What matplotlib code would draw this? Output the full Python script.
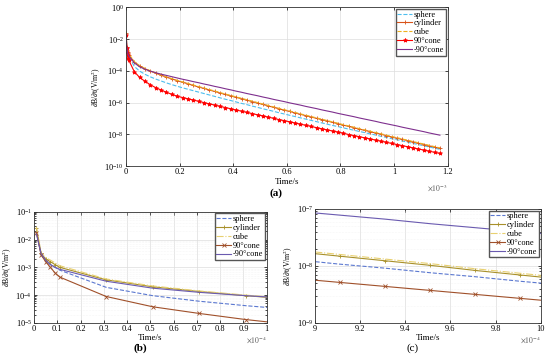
import numpy as np
import matplotlib
matplotlib.use("Agg")
import matplotlib.pyplot as plt
from matplotlib.ticker import LogLocator, MultipleLocator, FuncFormatter, NullFormatter

plt.rcParams['font.family'] = ['Liberation Serif', 'DejaVu Serif']
plt.rcParams['mathtext.fontset'] = 'stix'

# time samples (x 1e-3 s)
t_ms = [0.001, 0.003, 0.005, 0.007, 0.009, 0.011,
        0.031, 0.051, 0.071, 0.091, 0.111, 0.131, 0.151, 0.171, 0.191,
        0.211, 0.231, 0.251, 0.271, 0.291, 0.311, 0.331, 0.351, 0.371, 0.391,
        0.411, 0.431, 0.451, 0.471, 0.491, 0.511, 0.531, 0.551, 0.571, 0.591,
        0.611, 0.631, 0.651, 0.671, 0.691, 0.711, 0.731, 0.751, 0.771, 0.791,
        0.811, 0.831, 0.851, 0.871, 0.891, 0.911, 0.931, 0.951, 0.971, 0.991,
        1.011, 1.031, 1.051, 1.071, 1.091, 1.111, 1.131, 1.151, 1.171]

# log10 of dB/dt for each model
log_sphere = [-1.70, -2.55, -2.75, -2.90, -3.00, -3.10,
              -3.72, -4.02, -4.22, -4.38, -4.52, -4.64, -4.76, -4.87, -4.97,
              -5.07, -5.16, -5.25, -5.34, -5.43, -5.52, -5.61, -5.70, -5.79, -5.87,
              -5.96, -6.05, -6.13, -6.22, -6.30, -6.39, -6.47, -6.55, -6.64, -6.72,
              -6.80, -6.88, -6.96, -7.04, -7.12, -7.20, -7.28, -7.36, -7.44, -7.51,
              -7.59, -7.67, -7.74, -7.82, -7.89, -7.97, -8.04, -8.12, -8.19, -8.27,
              -8.34, -8.42, -8.49, -8.57, -8.64, -8.72, -8.79, -8.87, -8.94]
log_cylinder = [-1.60, -2.50, -2.70, -2.80, -2.90, -3.00,
                -3.45, -3.70, -3.87, -4.02, -4.15, -4.28, -4.40, -4.51, -4.62,
                -4.72, -4.82, -4.92, -5.02, -5.11, -5.21, -5.30, -5.40, -5.49, -5.58,
                -5.67, -5.76, -5.85, -5.94, -6.03, -6.12, -6.21, -6.30, -6.39, -6.48,
                -6.56, -6.65, -6.74, -6.82, -6.91, -6.99, -7.08, -7.16, -7.25, -7.33,
                -7.42, -7.50, -7.58, -7.67, -7.75, -7.83, -7.91, -7.99, -8.08, -8.16,
                -8.24, -8.32, -8.40, -8.48, -8.56, -8.64, -8.72, -8.80, -8.88]
log_cube = [-1.55, -2.48, -2.65, -2.74, -2.84, -2.94,
            -3.42, -3.67, -3.85, -4.00, -4.13, -4.26, -4.38, -4.49, -4.60,
            -4.70, -4.79, -4.89, -4.99, -5.08, -5.18, -5.27, -5.37, -5.46, -5.55,
            -5.64, -5.73, -5.82, -5.91, -6.00, -6.09, -6.18, -6.27, -6.36, -6.45,
            -6.53, -6.62, -6.71, -6.79, -6.88, -6.96, -7.05, -7.13, -7.22, -7.30,
            -7.39, -7.47, -7.55, -7.64, -7.72, -7.80, -7.88, -7.96, -8.05, -8.13,
            -8.21, -8.29, -8.37, -8.45, -8.53, -8.61, -8.69, -8.77, -8.85]
log_cone90 = [-1.75, -2.55, -2.80, -3.00, -3.20, -3.35,
              -4.05, -4.42, -4.66, -4.88, -5.06, -5.21, -5.35, -5.48, -5.60,
              -5.68, -5.76, -5.84, -5.92, -6.00, -6.08, -6.16, -6.24, -6.31, -6.39,
              -6.47, -6.54, -6.62, -6.69, -6.77, -6.84, -6.92, -6.99, -7.07, -7.14,
              -7.21, -7.29, -7.36, -7.43, -7.50, -7.58, -7.65, -7.72, -7.79, -7.86,
              -7.93, -8.01, -8.08, -8.15, -8.22, -8.29, -8.36, -8.43, -8.50, -8.57,
              -8.64, -8.71, -8.78, -8.85, -8.92, -8.99, -9.06, -9.13, -9.20]
log_cone_m90 = [-1.80, -2.50, -2.75, -2.90, -3.00, -3.07,
                -3.50, -3.75, -3.90, -4.02, -4.12, -4.21, -4.29, -4.37, -4.45,
                -4.53, -4.60, -4.68, -4.75, -4.83, -4.90, -4.98, -5.05, -5.13, -5.20,
                -5.28, -5.35, -5.43, -5.50, -5.57, -5.65, -5.72, -5.80, -5.87, -5.94,
                -6.02, -6.09, -6.16, -6.24, -6.31, -6.38, -6.46, -6.53, -6.60, -6.68,
                -6.75, -6.82, -6.89, -6.97, -7.04, -7.11, -7.18, -7.26, -7.33, -7.40,
                -7.47, -7.55, -7.62, -7.69, -7.76, -7.83, -7.91, -7.98, -8.05]

labels = ['sphere', 'cylinder', 'cube', '90°cone', '-90°cone']
series = [log_sphere, log_cylinder, log_cube, log_cone90, log_cone_m90]

t = np.array(t_ms) * 1e-3

style_a = [dict(color='#4DBEEE', ls='--', marker=None),
           dict(color='#D95319', ls='-', marker='+'),
           dict(color='#EDB120', ls='--', marker=None),
           dict(color='#FF0000', ls='-', marker='*'),
           dict(color='#7E2F8E', ls='-', marker=None)]
style_bc = [dict(color='#5B78D0', ls='--', marker=None),
            dict(color='#A8902A', ls='-', marker='+'),
            dict(color='#E8D070', ls='-.', marker=None),
            dict(color='#A0502A', ls='-', marker='x'),
            dict(color='#6A5AB0', ls='-', marker=None)]

FS = 6


def log_fmt(v, pos):
    return r'$10^{%d}$' % int(round(np.log10(v)))


def setup(ax, xlim, xstep, ylim, scale_txt, minor=False):
    ax.set_yscale('log')
    ax.set_xlim(*xlim)
    ax.set_ylim(*ylim)
    ax.xaxis.set_major_locator(MultipleLocator(xstep))
    ax.tick_params(direction='in', which='both', top=True, right=True,
                   labelsize=FS, length=2.5, width=0.5, pad=1.5)
    ax.tick_params(which='minor', length=1.5)
    for s in ax.spines.values():
        s.set_linewidth(0.6)
        s.set_color('#333333')
    ax.grid(True, which='major', color='#dddddd', lw=0.5)
    if minor:
        ax.yaxis.set_minor_locator(LogLocator(subs=np.arange(2, 10)))
        ax.grid(True, which='minor', axis='y', color='#eeeeee', lw=0.4, ls=':')
    ax.yaxis.set_minor_formatter(NullFormatter())
    ax.xaxis.set_major_formatter(FuncFormatter(lambda v, p: '%g' % round(v, 1)))
    ax.set_xlabel('Time/s', fontsize=FS + 0.5, labelpad=1)
    ax.set_ylabel(r'$\partial$B/$\partial$t(V/m$^2$)', fontsize=FS - 0.5, labelpad=1)
    ax.text(1.0, -0.1, scale_txt, transform=ax.transAxes, ha='right', va='top',
            fontsize=FS - 0.5, color='#555555')
    ax.legend(loc='upper right', fontsize=FS, frameon=True, fancybox=False,
              edgecolor='#555555', framealpha=1, borderpad=0.2, labelspacing=0.1,
              handlelength=1.8, handletextpad=0.2, borderaxespad=0.2)


fig = plt.figure(figsize=(5.5, 3.62), dpi=100)

# (a) full range
ax_a = fig.add_axes([0.229, 0.541, 0.585, 0.439])
for vals, st, lab in zip(series, style_a, labels):
    ax_a.plot(t * 1e3, 10 ** np.array(vals), lw=0.8, ms=3, mew=0.6, label=lab, **st)
ax_a.yaxis.set_major_locator(LogLocator(base=100))
ax_a.yaxis.set_major_formatter(FuncFormatter(log_fmt))
setup(ax_a, (0, 1.2), 0.2, (1e-10, 1e0), r'$\times10^{-3}$')
fig.text(0.502, 0.458, '(a)', fontsize=8, fontweight='bold', ha='center')

# (b) early time
ax_b = fig.add_axes([0.062, 0.108, 0.423, 0.307])
for vals, st, lab in zip(series, style_bc, labels):
    ax_b.plot(t * 1e4, 10 ** np.array(vals), lw=0.8, ms=3, mew=0.6, label=lab, **st)
ax_b.yaxis.set_major_formatter(FuncFormatter(log_fmt))
setup(ax_b, (0, 1.0), 0.1, (1e-5, 1e-1), r'$\times10^{-4}$', minor=True)
fig.text(0.255, 0.03, '(b)', fontsize=8, fontweight='bold', ha='center')

# (c) late time
ax_c = fig.add_axes([0.573, 0.108, 0.41, 0.315])
for vals, st, lab in zip(series, style_bc, labels):
    ax_c.plot(t * 1e4, 10 ** np.array(vals), lw=0.8, ms=3, mew=0.6, label=lab, **st)
ax_c.yaxis.set_major_formatter(FuncFormatter(log_fmt))
setup(ax_c, (9, 10), 0.2, (1e-9, 1e-7), r'$\times10^{-4}$', minor=True)
fig.text(0.751, 0.03, '(c)', fontsize=8, ha='center')

fig.savefig('out.png', dpi=100)
